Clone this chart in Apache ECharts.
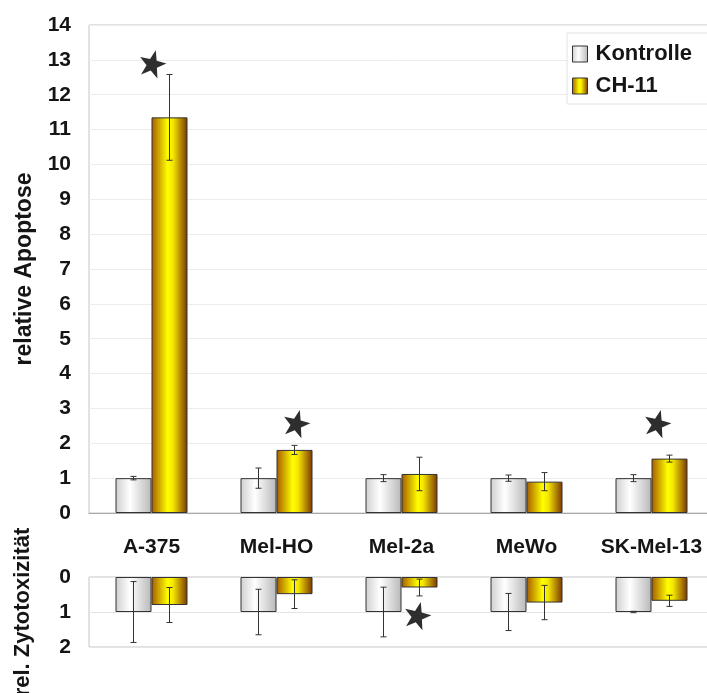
<!DOCTYPE html>
<html>
<head>
<meta charset="utf-8">
<script src="https://cdn.jsdelivr.net/npm/echarts@6/dist/echarts.min.js"></script>
<style>
  html, body { margin: 0; padding: 0; background: #fff; }
  #chart { width: 707px; height: 693px; }
</style>
</head>
<body>
<div id="chart"></div>
<script>
// Cell lines
const categories = ['A-375', 'Mel-HO', 'Mel-2a', 'MeWo', 'SK-Mel-13'];

// Relative apoptosis (mean and error)
const apoptoseKontrolle = [1.0, 1.0, 1.0, 1.0, 1.0];
const apoptoseKontrolleErr = [0.05, 0.29, 0.10, 0.09, 0.10];
const apoptoseCH11 = [11.35, 1.81, 1.12, 0.90, 1.56];
const apoptoseCH11Err = [1.23, 0.13, 0.48, 0.26, 0.10];

// Relative cytotoxicity (mean and error)
const zytoKontrolle = [1.0, 1.0, 1.0, 1.0, 1.0];
const zytoKontrolleErr = [0.87, 0.65, 0.71, 0.53, 0.02];
const zytoCH11 = [0.80, 0.49, 0.30, 0.73, 0.68];
const zytoCH11Err = [0.50, 0.41, 0.24, 0.49, 0.16];

// Significance markers: [category index, value]
const apoptoseStars = [[0, 12.9], [1, 2.58], [4, 2.58]];
const zytoStars = [[2, 1.09]];

const apoptoseTicks = [0, 1, 2, 3, 4, 5, 6, 7, 8, 9, 10, 11, 12, 13, 14];
const zytoTicks = [0, 1, 2];

const FONT = '"Liberation Sans", Arial, sans-serif';
const TEXT = '#151515';
const BAR_W = 36;

const grayFill = new echarts.graphic.LinearGradient(0, 0, 1, 0, [
  { offset: 0, color: '#cfcfcf' },
  { offset: 0.4, color: '#ffffff' },
  { offset: 1, color: '#b8b8b8' }
]);
const yellowFill = new echarts.graphic.LinearGradient(0, 0, 1, 0, [
  { offset: 0, color: '#a55a00' },
  { offset: 0.45, color: '#ffff00' },
  { offset: 0.6, color: '#f5e600' },
  { offset: 1, color: '#7a3500' }
]);

const STAR = 'path://M50,0 L62,34 L98,35 L69,57 L80,92 L50,71 L20,92 L31,57 L2,35 L38,34 Z';

function errorSeries(name, values, errs, offset, xi, yi) {
  return {
    type: 'custom',
    name: name + ' err',
    xAxisIndex: xi,
    yAxisIndex: yi,
    silent: true,
    z: 5,
    data: values.map((v, i) => [i, v, errs[i]]),
    renderItem: function (params, api) {
      const i = api.value(0), v = api.value(1), e = api.value(2);
      const hi = api.coord([i, v + e]);
      const lo = api.coord([i, v - e]);
      const x = hi[0] + offset;
      const cap = 3;
      const style = { stroke: '#333333', lineWidth: 1 };
      return {
        type: 'group',
        children: [
          { type: 'line', shape: { x1: x, y1: hi[1], x2: x, y2: lo[1] }, style: style },
          { type: 'line', shape: { x1: x - cap, y1: hi[1], x2: x + cap, y2: hi[1] }, style: style },
          { type: 'line', shape: { x1: x - cap, y1: lo[1], x2: x + cap, y2: lo[1] }, style: style }
        ]
      };
    }
  };
}

function barSeries(name, values, fill, xi, yi) {
  return {
    type: 'bar',
    name: name,
    xAxisIndex: xi,
    yAxisIndex: yi,
    data: values,
    barWidth: BAR_W,
    barGap: '0%',
    itemStyle: { color: fill, borderColor: '#333', borderWidth: 1 },
    emphasis: { disabled: true }
  };
}

// horizontal nudges of the markers relative to the category centre
const starShift = { 0: 1, 1: 20, 2: 16, 4: 6 };

function starSeries(points, xi, yi) {
  return {
    type: 'scatter',
    xAxisIndex: xi,
    yAxisIndex: yi,
    silent: true,
    z: 6,
    data: points.map(p => ({
      value: p,
      symbolOffset: [starShift[p[0]] || 0, 0]
    })),
    symbol: STAR,
    symbolSize: 27,
    symbolRotate: -14,
    itemStyle: { color: '#2e2e2e', opacity: 1 }
  };
}

const chart = echarts.init(document.getElementById('chart'), null, { renderer: 'canvas' });

chart.setOption({
  animation: false,
  backgroundColor: '#ffffff',
  textStyle: { fontFamily: FONT },
  legend: {
    data: [
      { name: 'Kontrolle', itemStyle: { color: grayFill, borderColor: '#333', borderWidth: 1 } },
      { name: 'CH-11', itemStyle: { color: yellowFill, borderColor: '#333', borderWidth: 1 } }
    ],
    orient: 'vertical',
    left: 567,
    top: 33,
    padding: [8, 40, 5, 5],
    itemWidth: 15,
    itemHeight: 16,
    itemGap: 6,
    borderColor: '#e2e2e2',
    borderWidth: 1,
    backgroundColor: '#ffffff',
    icon: 'rect',
    selectedMode: false,
    textStyle: { fontFamily: FONT, fontSize: 22, fontWeight: 'bold', color: TEXT, lineHeight: 26, padding: [0, 0, 0, 3] }
  },
  grid: [
    { left: 89, top: 25, width: 625, height: 488, outerBoundsMode: 'none', show: true, borderColor: '#c4c4c4', borderWidth: 1, backgroundColor: 'transparent' },
    { left: 89, top: 577, width: 625, height: 70, outerBoundsMode: 'none', show: true, borderColor: '#c4c4c4', borderWidth: 1, backgroundColor: 'transparent' }
  ],
  xAxis: [
    {
      type: 'category', gridIndex: 0, data: categories,
      axisLine: { show: true, lineStyle: { color: '#a8a8a8' } },
      axisTick: { show: false },
      axisLabel: { interval: 0, fontFamily: FONT, fontSize: 21, fontWeight: 'bold', color: TEXT, margin: 24 }
    },
    {
      type: 'category', gridIndex: 1, data: categories, position: 'top',
      axisLine: { show: false }, axisTick: { show: false }, axisLabel: { show: false }
    }
  ],
  yAxis: [
    {
      type: 'value', gridIndex: 0,
      min: apoptoseTicks[0], max: apoptoseTicks[apoptoseTicks.length - 1], interval: 1,
      name: 'relative Apoptose', nameLocation: 'middle', nameGap: 53,
      nameTextStyle: { fontFamily: FONT, fontSize: 23, fontWeight: 'bold', color: TEXT },
      axisLine: { show: false }, axisTick: { show: false },
      axisLabel: { fontFamily: FONT, fontSize: 21, fontWeight: 'bold', color: TEXT, margin: 18 },
      splitLine: { show: true, lineStyle: { color: '#ececec' } }
    },
    {
      type: 'value', gridIndex: 1, inverse: true,
      min: zytoTicks[0], max: zytoTicks[zytoTicks.length - 1], interval: 1,
      name: 'rel. Zytotoxizität', nameLocation: 'middle', nameGap: 55,
      nameTextStyle: { fontFamily: FONT, fontSize: 22, fontWeight: 'bold', color: TEXT },
      axisLine: { show: false }, axisTick: { show: false },
      axisLabel: { fontFamily: FONT, fontSize: 21, fontWeight: 'bold', color: TEXT, margin: 18 },
      splitLine: { show: true, lineStyle: { color: '#e4e4e4' } }
    }
  ],
  series: [
    barSeries('Kontrolle', apoptoseKontrolle, grayFill, 0, 0),
    barSeries('CH-11', apoptoseCH11, yellowFill, 0, 0),
    barSeries('Kontrolle', zytoKontrolle, grayFill, 1, 1),
    barSeries('CH-11', zytoCH11, yellowFill, 1, 1),
    errorSeries('Kontrolle', apoptoseKontrolle, apoptoseKontrolleErr, -BAR_W / 2, 0, 0),
    errorSeries('CH-11', apoptoseCH11, apoptoseCH11Err, BAR_W / 2, 0, 0),
    errorSeries('Kontrolle', zytoKontrolle, zytoKontrolleErr, -BAR_W / 2, 1, 1),
    errorSeries('CH-11', zytoCH11, zytoCH11Err, BAR_W / 2, 1, 1),
    starSeries(apoptoseStars, 0, 0),
    starSeries(zytoStars, 1, 1)
  ]
});
</script>
</body>
</html>
